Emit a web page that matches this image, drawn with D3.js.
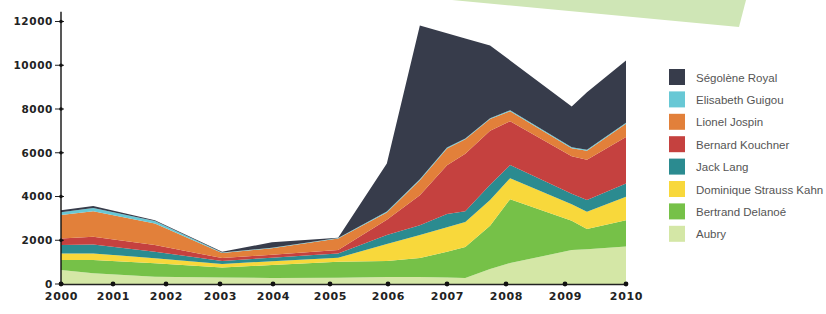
<!DOCTYPE html>
<html>
<head>
<meta charset="utf-8">
<script src="https://cdn.jsdelivr.net/npm/d3@7"></script>
<style>
  html, body { margin: 0; padding: 0; background: #fff; }
  svg { display: block; }
</style>
</head>
<body>
<div id="app"></div>
<script>
// points along the x axis, in years
const years = [2000, 2000.62, 2001.79, 2003.04, 2003.98, 2005.14, 2005.98, 2006.54, 2007, 2007.31, 2007.73, 2008.07, 2009.11, 2009.36, 2010];

// series, bottom of the stack first
const aubry    = [640, 490, 335, 300, 275, 285, 320, 320, 300, 280, 685, 960, 1550, 1585, 1710];
const delanoe  = [455, 605, 610, 455, 590, 730, 730, 865, 1175, 1410, 1975, 2920, 1345, 925, 1210];
const strauss  = [305, 305, 230, 160, 180, 185, 775, 1050, 1125, 1140, 1175, 960, 755, 790, 1065];
const lang     = [380, 410, 300, 135, 160, 200, 410, 455, 595, 500, 705, 595, 480, 535, 610];
const kouchner = [305, 345, 305, 135, 135, 150, 700, 1370, 2235, 2620, 2465, 2005, 1710, 1850, 2125];
const jospin   = [1065, 1175, 990, 230, 295, 535, 330, 685, 760, 670, 535, 455, 365, 410, 610];
const guigou   = [135, 150, 105, 30, 20, 15, 45, 45, 45, 35, 35, 45, 45, 45, 45];
const royal    = [90, 90, 45, 30, 250, 15, 2200, 7025, 5230, 4565, 3330, 2280, 1870, 2625, 2840];

const names = ['Aubry', 'Bertrand Delanoé', 'Dominique Strauss Kahn', 'Jack Lang',
  'Bernard Kouchner', 'Lionel Jospin', 'Elisabeth Guigou', 'Ségolène Royal'];
const series = [aubry, delanoe, strauss, lang, kouchner, jospin, guigou, royal];
const colors = ['#d4e7a6', '#76c148', '#f8d83b', '#2b8b90', '#c5413f', '#e2803a', '#68c8d5', '#373c4b'];

const xTicks = d3.range(2000, 2011);
const yTicks = [0, 2000, 4000, 6000, 8000, 10000, 12000];

const width = 826;
const height = 314;

// the source axis has uneven year spacing, so the scale is piecewise
const xScale =
  d3.scaleLinear()
    .domain(xTicks)
    .range([61, 113, 166, 220, 273, 330, 388, 447, 506, 565, 626]);

const yScale =
  d3.scaleLinear()
    .domain([0, 12000])
    .range([284, 21.5]);

const table = years.map((yr, i) => {
  const row = { year: yr };
  names.forEach((n, k) => { row[n] = series[k][i]; });
  return row;
});

const stacked = d3.stack().keys(names)(table);

const svg =
  d3.select('#app').append('svg')
    .attr('width', width)
    .attr('height', height);

// cut-off banner at the top
svg.append('polygon')
  .attr('points', '452,0 746,0 739,27')
  .attr('fill', '#cfe6b6');

const area =
  d3.area()
    .x(d => xScale(d.data.year))
    .y0(d => yScale(d[0]))
    .y1(d => yScale(d[1]));

svg.append('g')
  .selectAll('path')
  .data(stacked)
  .enter()
  .append('path')
  .attr('d', area)
  .attr('fill', (d, i) => colors[i]);

// y axis
const yAxis =
  svg.append('g')
    .attr('transform', 'translate(61,0)')
    .call(d3.axisLeft(yScale).tickValues(yTicks).tickFormat(d3.format('d')).tickSize(0).tickPadding(8));

yAxis.select('.domain').remove();
yAxis.selectAll('text')
  .attr('font-family', 'DejaVu Sans')
  .attr('font-weight', 'bold')
  .attr('font-size', 10.5)
  .attr('letter-spacing', 0.6)
  .attr('fill', '#222');

svg.append('line')
  .attr('x1', 61).attr('x2', 61)
  .attr('y1', yScale(12450)).attr('y2', yScale(0))
  .attr('stroke', '#111').attr('stroke-width', 1.4);

svg.append('g')
  .selectAll('line')
  .data(yTicks)
  .enter()
  .append('line')
  .attr('x1', 55).attr('x2', 64)
  .attr('y1', d => yScale(d)).attr('y2', d => yScale(d))
  .attr('stroke', '#222').attr('stroke-width', 1);

svg.append('g')
  .selectAll('circle')
  .data(yTicks)
  .enter()
  .append('circle')
  .attr('cx', 61)
  .attr('cy', d => yScale(d))
  .attr('r', 1.8)
  .attr('fill', '#111');

// x axis
const xAxis =
  svg.append('g')
    .attr('transform', 'translate(0,284)')
    .call(d3.axisBottom(xScale).tickValues(xTicks).tickFormat(d3.format('d')).tickSize(0).tickPadding(8));

xAxis.select('.domain')
  .attr('stroke', '#222')
  .attr('stroke-width', 1.4);
xAxis.selectAll('text')
  .attr('font-family', 'DejaVu Sans')
  .attr('font-weight', 'bold')
  .attr('font-size', 11)
  .attr('letter-spacing', 0.7)
  .attr('fill', '#222');

svg.append('g')
  .selectAll('circle')
  .data(xTicks)
  .enter()
  .append('circle')
  .attr('cx', d => xScale(d))
  .attr('cy', 284)
  .attr('r', 2.4)
  .attr('fill', '#111');

// legend, top entry first
const legend =
  svg.append('g')
    .attr('transform', 'translate(669,69)')
    .selectAll('g')
    .data(names.slice().reverse())
    .enter()
    .append('g')
    .attr('transform', (d, i) => 'translate(0,' + (i * 22.4) + ')');

legend.append('rect')
  .attr('width', 16)
  .attr('height', 16)
  .attr('fill', d => colors[names.indexOf(d)]);

legend.append('text')
  .attr('x', 27)
  .attr('y', 12.5)
  .attr('font-family', 'Liberation Sans')
  .attr('font-size', 11.5)
  .attr('fill', '#555')
  .text(d => d);
</script>
</body>
</html>
